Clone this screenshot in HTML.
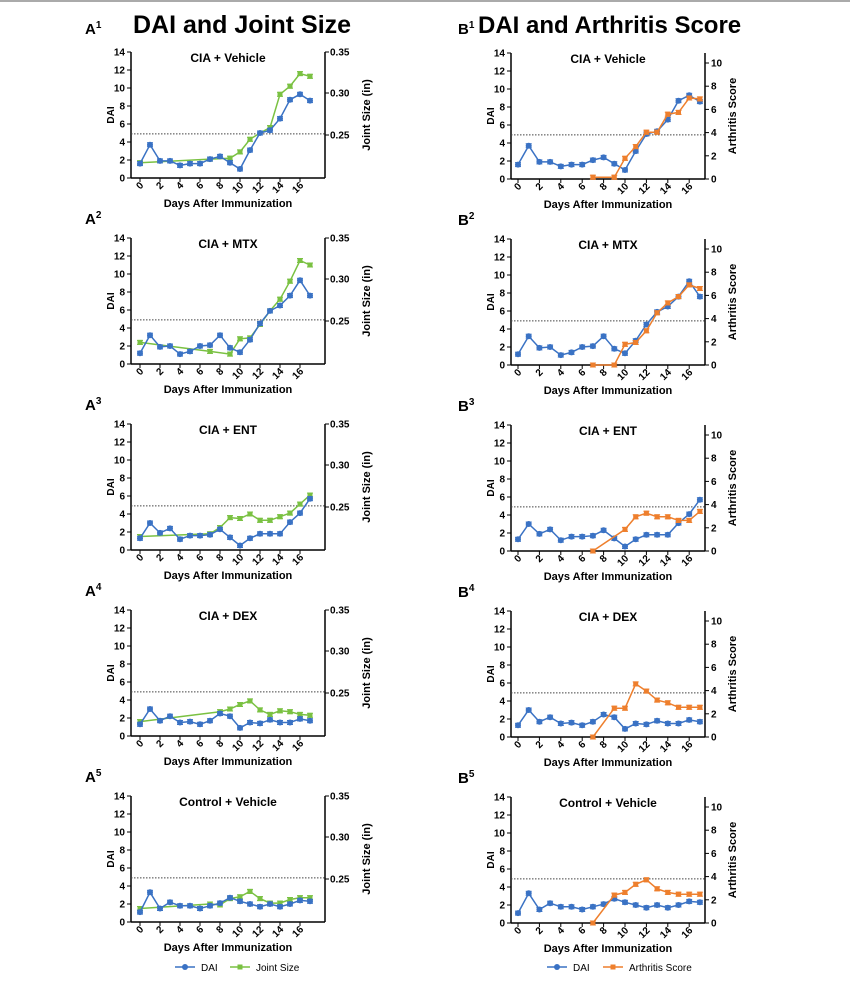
<!DOCTYPE html>
<html><head><meta charset="utf-8"><style>
body{margin:0;background:#fff;}
svg{display:block;font-family:"Liberation Sans",sans-serif;}
</style></head><body>
<svg id="s" width="850" height="997" xmlns="http://www.w3.org/2000/svg">
<rect x="0" y="0" width="850" height="997" fill="#fff"/>
<line x1="0" y1="1" x2="850" y2="1" stroke="#aaa" stroke-width="2"/>
<text x="85" y="34" font-size="15" font-weight="bold">A<tspan font-size="10" dy="-6">1</tspan></text>
<text x="133" y="33" font-size="25" font-weight="bold">DAI and Joint Size</text>
<text x="458" y="34" font-size="15" font-weight="bold">B<tspan font-size="10" dy="-6">1</tspan></text>
<text x="478" y="33" font-size="24" font-weight="bold">DAI and Arthritis Score</text>
</svg>
<script>
const s=document.getElementById('s');let h='';
const BL='#3a72c4',GR='#7ac142',OR='#ee7f2d';
const dai=[
[1.6,3.7,1.9,1.9,1.4,1.6,1.6,2.1,2.4,1.7,1.0,3.1,5.0,5.3,6.6,8.7,9.3,8.6],
[1.2,3.2,1.9,2.0,1.1,1.4,2.0,2.1,3.2,1.8,1.3,2.7,4.5,5.9,6.5,7.6,9.3,7.6],
[1.3,3.0,1.9,2.4,1.2,1.6,1.6,1.7,2.3,1.4,0.5,1.3,1.8,1.8,1.8,3.1,4.1,5.7],
[1.3,3.0,1.7,2.2,1.5,1.6,1.3,1.7,2.5,2.2,0.9,1.5,1.4,1.8,1.5,1.5,1.9,1.7],
[1.1,3.3,1.5,2.2,1.8,1.8,1.5,1.8,2.1,2.7,2.3,2.0,1.7,2.0,1.7,2.0,2.4,2.3]];
const gr=[
[[0,1.7],[7,2.1],[9,2.2],[10,2.9],[11,4.3],[12,5.0],[13,5.6],[14,9.3],[15,10.2],[16,11.6],[17,11.3]],
[[0,2.4],[7,1.4],[9,1.1],[10,2.8],[11,2.9],[12,4.4],[13,5.9],[14,7.2],[15,9.2],[16,11.5],[17,11.0]],
[[0,1.5],[7,1.8],[8,2.5],[9,3.6],[10,3.5],[11,4.0],[12,3.3],[13,3.3],[14,3.7],[15,4.1],[16,5.1],[17,6.1]],
[[0,1.6],[8,2.7],[9,3.0],[10,3.5],[11,3.9],[12,2.9],[13,2.4],[14,2.8],[15,2.7],[16,2.4],[17,2.3]],
[[0,1.5],[7,2.0],[8,1.9],[9,2.6],[10,2.8],[11,3.4],[12,2.6],[13,2.1],[14,2.1],[15,2.5],[16,2.7],[17,2.7]]];
const orr=[
[[7,0.2],[9,0.2],[10,2.3],[11,3.6],[12,5.2],[13,5.2],[14,7.2],[15,7.4],[16,9.0],[17,8.9]],
[[7,0],[9,0],[10,2.3],[11,2.5],[12,3.8],[13,5.8],[14,6.9],[15,7.6],[16,8.9],[17,8.5]],
[[7,0],[10,2.4],[11,3.8],[12,4.2],[13,3.8],[14,3.8],[15,3.4],[16,3.4],[17,4.4]],
[[7,0],[9,3.2],[10,3.2],[11,5.9],[12,5.1],[13,4.1],[14,3.8],[15,3.3],[16,3.3],[17,3.3]],
[[7,0],[9,3.1],[10,3.4],[11,4.3],[12,4.8],[13,3.8],[14,3.4],[15,3.2],[16,3.2],[17,3.2]]];
const titles=['CIA + Vehicle','CIA + MTX','CIA + ENT','CIA + DEX','Control + Vehicle'];
function err(x,y,c,e){return `<line x1="${x}" y1="${y-e}" x2="${x}" y2="${y+e}" stroke="${c}" stroke-width="1"/><line x1="${x-3}" y1="${y-e}" x2="${x+3}" y2="${y-e}" stroke="${c}"/><line x1="${x-3}" y1="${y+e}" x2="${x+3}" y2="${y+e}" stroke="${c}"/>`;}
function panel(k,B){
 const base=178+186*k+(B?1:0), top=base-126;
 const ax=B?511:131, x0=B?518:140, dx=B?10.7:10, rx=B?705:325;
 const Y=v=>base-v*9, X=d=>x0+d*dx;
 let L=String.fromCharCode(B?66:65);
 if(k>0)h+=`<text x="${B?458:85}" y="${top-14}" font-size="15" font-weight="bold">${L}<tspan font-size="10" dy="-6">${k+1}</tspan></text>`;
 h+=`<line x1="${ax}" y1="${top}" x2="${ax}" y2="${base}" stroke="#000" stroke-width="1.5"/><line x1="${ax}" y1="${base}" x2="${rx}" y2="${base}" stroke="#000" stroke-width="1.5"/><line x1="${rx}" y1="${top}" x2="${rx}" y2="${base}" stroke="#000" stroke-width="1.5"/>`;
 for(let v=0;v<=14;v+=2){h+=`<line x1="${ax-4}" y1="${Y(v)}" x2="${ax}" y2="${Y(v)}" stroke="#000"/><text x="${ax-6}" y="${Y(v)+3.5}" font-size="10" font-weight="bold" text-anchor="end">${v}</text>`;}
 for(let d=0;d<=16;d+=2){const x=X(d);h+=`<line x1="${x}" y1="${base}" x2="${x}" y2="${base+4}" stroke="#000"/><text transform="translate(${x+4},${base+8}) rotate(-45)" font-size="10" font-weight="bold" text-anchor="end">${d}</text>`;}
 if(B){for(let v=0;v<=10;v+=2){const y=base-v*11.6;h+=`<line x1="${rx}" y1="${y}" x2="${rx+4}" y2="${y}" stroke="#000"/><text x="${rx+6}" y="${y+3.5}" font-size="10" font-weight="bold">${v}</text>`;}
  h+=`<text transform="translate(${rx+31},${base-63}) rotate(-90)" font-size="11" font-weight="bold" text-anchor="middle">Arthritis Score</text>`;}
 else{[[0.25,135],[0.30,93],[0.35,52]].forEach(([v,yy])=>{const y=yy+186*k;h+=`<line x1="${rx}" y1="${y}" x2="${rx+4}" y2="${y}" stroke="#000"/><text x="${rx+5}" y="${y+3.5}" font-size="10" font-weight="bold">${v.toFixed(2)}</text>`;});
  h+=`<text transform="translate(${rx+45},${base-63}) rotate(-90)" font-size="11" font-weight="bold" text-anchor="middle">Joint Size (in)</text>`;}
 h+=`<text transform="translate(${ax-17},${base-63}) rotate(-90)" font-size="10" font-weight="bold" text-anchor="middle">DAI</text>`;
 h+=`<text x="${(ax+rx)/2}" y="${top+10}" font-size="12" font-weight="bold" text-anchor="middle">${titles[k]}</text>`;
 h+=`<text x="${(ax+rx)/2}" y="${base+29}" font-size="11" font-weight="bold" text-anchor="middle">Days After Immunization</text>`;
 h+=`<line x1="${ax}" y1="${Y(4.9)}" x2="${rx}" y2="${Y(4.9)}" stroke="#444" stroke-dasharray="1.5,1.5"/>`;
 const sec=B?orr[k]:gr[k], c2=B?OR:GR;
 const sp=sec.map(p=>X(p[0])+','+Y(p[1])).join(' ');
 const dp=dai[k].map((v,i)=>X(i)+','+Y(v)).join(' ');
 const draw=(pts,c,sq,data,isArr)=>{h+=`<polyline points="${pts}" fill="none" stroke="${c}" stroke-width="1.5"/>`;
  data.forEach((p,i)=>{const d=isArr?p[0]:i,v=isArr?p[1]:p;const x=X(d),y=Y(v);const e=Math.max(2,v*0.09);h+=err(x,y,c,e);
   h+=sq?`<rect x="${x-2.5}" y="${y-2.5}" width="5" height="5" fill="${c}"/>`:`<circle cx="${x}" cy="${y}" r="3" fill="${c}"/>`;});};
 if(B){draw(dp,BL,false,dai[k],false);draw(sp,c2,true,sec,true);}else{draw(sp,c2,true,sec,true);draw(dp,BL,false,dai[k],false);}
}
for(let k=0;k<5;k++){panel(k,false);panel(k,true);}
const leg=(x,c,sq,t)=>{h+=`<line x1="${x}" y1="967" x2="${x+20}" y2="967" stroke="${c}" stroke-width="1.5"/>`+(sq?`<rect x="${x+7.5}" y="964.5" width="5" height="5" fill="${c}"/>`:`<circle cx="${x+10}" cy="967" r="3" fill="${c}"/>`)+`<text x="${x+26}" y="971" font-size="10">${t}</text>`;};
leg(175,BL,false,'DAI');leg(230,GR,true,'Joint Size');leg(547,BL,false,'DAI');leg(603,OR,true,'Arthritis Score');
s.insertAdjacentHTML('beforeend',h);
</script>
</body></html>
